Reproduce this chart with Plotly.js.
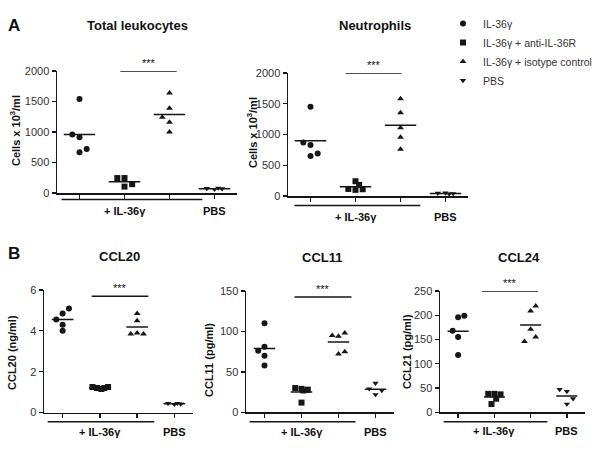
<!DOCTYPE html>
<html>
<head>
<meta charset="utf-8">
<script src="https://cdn.plot.ly/plotly-3.0.1.min.js"></script>
<style>html,body{margin:0;padding:0;background:#fff;}#chart{width:600px;height:452px;}</style>
</head>
<body>
<div id="chart"></div>
<script>
// ---------- data ----------
const groupNames = ['IL-36\u03b3', 'IL-36\u03b3 + anti-IL-36R', 'IL-36\u03b3 + isotype control', 'PBS'];
const categories = [0, 1, 2, 3];

// Total leukocytes (cells x 10^3/ml)
const leukoIL   = [1540, 960, 915, 670, 720];
const leukoAnti = [245, 245, 105, 145];
const leukoIso  = [1640, 1390, 1240, 1160, 1000];
const leukoPBS  = [75, 60, 80, 70];

// Neutrophils (cells x 10^3/ml)
const neutIL   = [1450, 870, 830, 650, 690];
const neutAnti = [240, 180, 115, 100, 110];
const neutIso  = [1580, 1355, 1110, 955, 760];
const neutPBS  = [45, 50, 35, 40];

// CCL20 (ng/ml)
const ccl20IL   = [5.1, 4.85, 4.55, 4.3, 4.0];
const ccl20Anti = [1.25, 1.2, 1.15, 1.2, 1.25];
const ccl20Iso  = [4.85, 4.5, 3.85, 3.9, 3.85];
const ccl20PBS  = [0.45, 0.4, 0.45, 0.42];

// CCL11 (pg/ml)
const ccl11IL   = [110, 81, 76, 70, 58];
const ccl11Anti = [30, 29, 28, 27, 12];
const ccl11Iso  = [95, 94, 98, 72, 75];
const ccl11PBS  = [36, 29, 27, 22];

// CCL24 (pg/ml)
const ccl24IL   = [196, 199, 168, 155, 118];
const ccl24Anti = [38, 38, 37, 28, 17];
const ccl24Iso  = [219, 209, 171, 146, 155];
const ccl24PBS  = [47, 43, 17, 28];

// horizontal jitter of the dots within a column (layout only)
const jitA1 = [[0,-0.16,0,0,0.16],[-0.16,0,0,0.17],[0,0,-0.16,0,0],[-0.17,0,0.08,0.17]];
const jitA2 = [[0,-0.16,0,0,0.16],[0,0.08,-0.16,0,0.16],[0,0,0,0,0],[-0.17,0,0.08,0.17]];
const jitB1 = [[0.17,0,-0.17,0,0],[-0.2,-0.08,0.04,0.12,0.22],[0,0,-0.17,0,0.17],[-0.17,0,0.08,0.17]];
const jitB2 = [[0,0,-0.17,0,0],[-0.17,0,0.17,0.05,0],[-0.17,0,0.17,0,0.17],[0,-0.17,0.17,0]];
const jitB3 = [[0,0.17,-0.15,0,0],[-0.17,0,0.17,0.05,-0.08],[0.14,0,0,-0.17,0.14],[-0.2,0,0,0.17]];

const symbols = ['circle', 'square', 'triangle-up', 'triangle-down'];
const ink = '#161616';
const FONT = 'Liberation Sans, Arial, sans-serif';

const traces = [];
function mean(a){ return a.reduce((s,v)=>s+v,0)/a.length; }

function addPanel(ax, series, jit, halfW, legend){
  const xa = 'x' + (ax === 1 ? '' : ax), ya = 'y' + (ax === 1 ? '' : ax);
  series.forEach((vals, g) => {
    traces.push({
      type:'scatter', mode:'markers', xaxis:xa, yaxis:ya,
      x: vals.map((v,i)=>categories[g] + jit[g][i]), y: vals,
      name: groupNames[g], showlegend: legend, legendrank: g+1,
      marker:{symbol:symbols[g], size: g===3 ? 5.5 : 6, color:ink},
      cliponaxis:false, hoverinfo:'y'
    });
    const m = mean(vals);
    traces.push({
      type:'scatter', mode:'lines', xaxis:xa, yaxis:ya, showlegend:false,
      x:[categories[g]-halfW, categories[g]+halfW], y:[m, m],
      line:{color:ink, width:1.5}, cliponaxis:false, hoverinfo:'skip'
    });
  });
}

addPanel(1, [leukoIL, leukoAnti, leukoIso, leukoPBS], jitA1, 0.35, true);
addPanel(2, [neutIL, neutAnti, neutIso, neutPBS], jitA2, 0.35, false);
addPanel(3, [ccl20IL, ccl20Anti, ccl20Iso, ccl20PBS], jitB1, 0.29, false);
addPanel(4, [ccl11IL, ccl11Anti, ccl11Iso, ccl11PBS], jitB2, 0.29, false);
addPanel(5, [ccl24IL, ccl24Anti, ccl24Iso, ccl24PBS], jitB3, 0.29, false);

// ---------- layout ----------
const W = 600, H = 452;
const px = v => v / W, py = v => 1 - v / H;

function xAxis(d0, d1, anchor){
  return {domain:[px(d0), px(d1)], anchor:anchor, range:[-0.5, 3.5],
    tickvals:categories, showticklabels:false, ticks:'outside', ticklen:4, tickwidth:1.3,
    tickcolor:ink, showline:true, linecolor:ink, linewidth:1.5, showgrid:false, zeroline:false, fixedrange:true};
}
function yAxis(top, bottom, anchor, range, dtick){
  return {domain:[py(bottom), py(top)], anchor:anchor, range:range, dtick:dtick, tick0:0,
    ticks:'outside', ticklen:4, tickwidth:1.3, tickcolor:ink, showline:true, linecolor:ink, linewidth:1.5,
    showgrid:false, zeroline:false, tickfont:{family:FONT, size:11, color:'#333'}, fixedrange:true};
}

const layout = {
  width:W, height:H, margin:{l:0, r:0, t:0, b:0},
  paper_bgcolor:'#fff', plot_bgcolor:'rgba(0,0,0,0)',
  font:{family:FONT, color:'#222'},
  showlegend:true,
  legend:{x:px(443), xanchor:'left', y:py(9), yanchor:'top', font:{family:FONT, size:10.5, color:'#333'},
    bgcolor:'rgba(0,0,0,0)', tracegroupgap:0, itemclick:false, itemdoubleclick:false},
  xaxis:  xAxis(57, 237, 'y'),
  yaxis:  yAxis(71, 193, 'x', [0, 2000], 500),
  xaxis2: xAxis(288, 468, 'y2'),
  yaxis2: yAxis(73, 196, 'x2', [0, 2000], 500),
  xaxis3: xAxis(44, 193, 'y3'),
  yaxis3: yAxis(290, 412.5, 'x3', [0, 6], 2),
  xaxis4: xAxis(246, 394, 'y4'),
  yaxis4: yAxis(291, 412.3, 'x4', [0, 150], 50),
  xaxis5: xAxis(440, 585, 'y5'),
  yaxis5: yAxis(291, 412.3, 'x5', [0, 250], 50),
  shapes:[], annotations:[]
};

function txt(x, y, text, size, opts){
  return Object.assign({xref:'paper', yref:'paper', x:px(x), y:py(y), text:text, showarrow:false,
    font:{family:FONT, size:size, color:'#111'}, xanchor:'center', yanchor:'middle'}, opts||{});
}
function bold(s){ return '<b>' + s + '</b>'; }

// panel letters and titles
layout.annotations.push(txt(14, 25, bold('A'), 17));
layout.annotations.push(txt(14, 253, bold('B'), 17));
layout.annotations.push(txt(137, 25, bold('Total leukocytes'), 13));
layout.annotations.push(txt(375, 25, bold('Neutrophils'), 13));
layout.annotations.push(txt(119, 256, bold('CCL20'), 13));
layout.annotations.push(txt(322, 257, bold('CCL11'), 13));
layout.annotations.push(txt(519, 257, bold('CCL24'), 13));

// y-axis titles
const yt = (x, y, s) => txt(x, y, bold(s), 11, {textangle:-90});
layout.annotations.push(yt(15, 131, 'Cells x 10<sup>3</sup>/ml'));
layout.annotations.push(yt(252, 133, 'Cells x 10<sup>3</sup>/ml'));
layout.annotations.push(yt(12, 353, 'CCL20 (ng/ml)'));
layout.annotations.push(yt(209, 360, 'CCL11 (pg/ml)'));
layout.annotations.push(yt(407, 352, 'CCL21 (pg/ml)'));

// brackets under the x axes and group labels
function bracket(xa, x0, x1, yLine, yText){
  layout.shapes.push({type:'line', xref:xa, yref:'paper', x0:x0, x1:x1, y0:py(yLine), y1:py(yLine),
    line:{color:ink, width:1.5}});
  layout.annotations.push({xref:xa, yref:'paper', x:1, y:py(yText), text:bold('+ IL-36\u03b3'), showarrow:false,
    font:{family:FONT, size:11, color:'#111'}, xanchor:'center', yanchor:'middle'});
  layout.annotations.push({xref:xa, yref:'paper', x:3, y:py(yText), text:bold('PBS'), showarrow:false,
    font:{family:FONT, size:11, color:'#111'}, xanchor:'center', yanchor:'middle'});
}
bracket('x', -0.4, 2.73, 199.5, 211);
bracket('x2', -0.36, 2.44, 205.5, 217);
bracket('x3', -0.4, 2.46, 421.7, 432);
bracket('x4', -0.4, 2.46, 421.7, 432);
bracket('x5', -0.4, 2.46, 421.7, 431);

// significance bars
function sig(xa, ya, x0, x1, yv){
  layout.shapes.push({type:'line', xref:xa, yref:ya, x0:x0, x1:x1, y0:yv, y1:yv, line:{color:ink, width:1.5}});
  layout.annotations.push({xref:xa, yref:ya, x:(x0+x1)/2, y:yv, yshift:8, text:'***', showarrow:false,
    font:{family:FONT, size:11, color:'#111'}, xanchor:'center', yanchor:'middle'});
}
sig('x', 'y', 0.91, 2.16, 2000);
sig('x2', 'y2', 0.78, 2.02, 2000);
sig('x3', 'y3', 0.78, 2.3, 6 * 0.95);
sig('x4', 'y4', 0.81, 2.35, 150 * 0.95);
sig('x5', 'y5', 0.66, 2.2, 250);

Plotly.newPlot('chart', traces, layout, {displayModeBar:false, staticPlot:true});
</script>
</body>
</html>
